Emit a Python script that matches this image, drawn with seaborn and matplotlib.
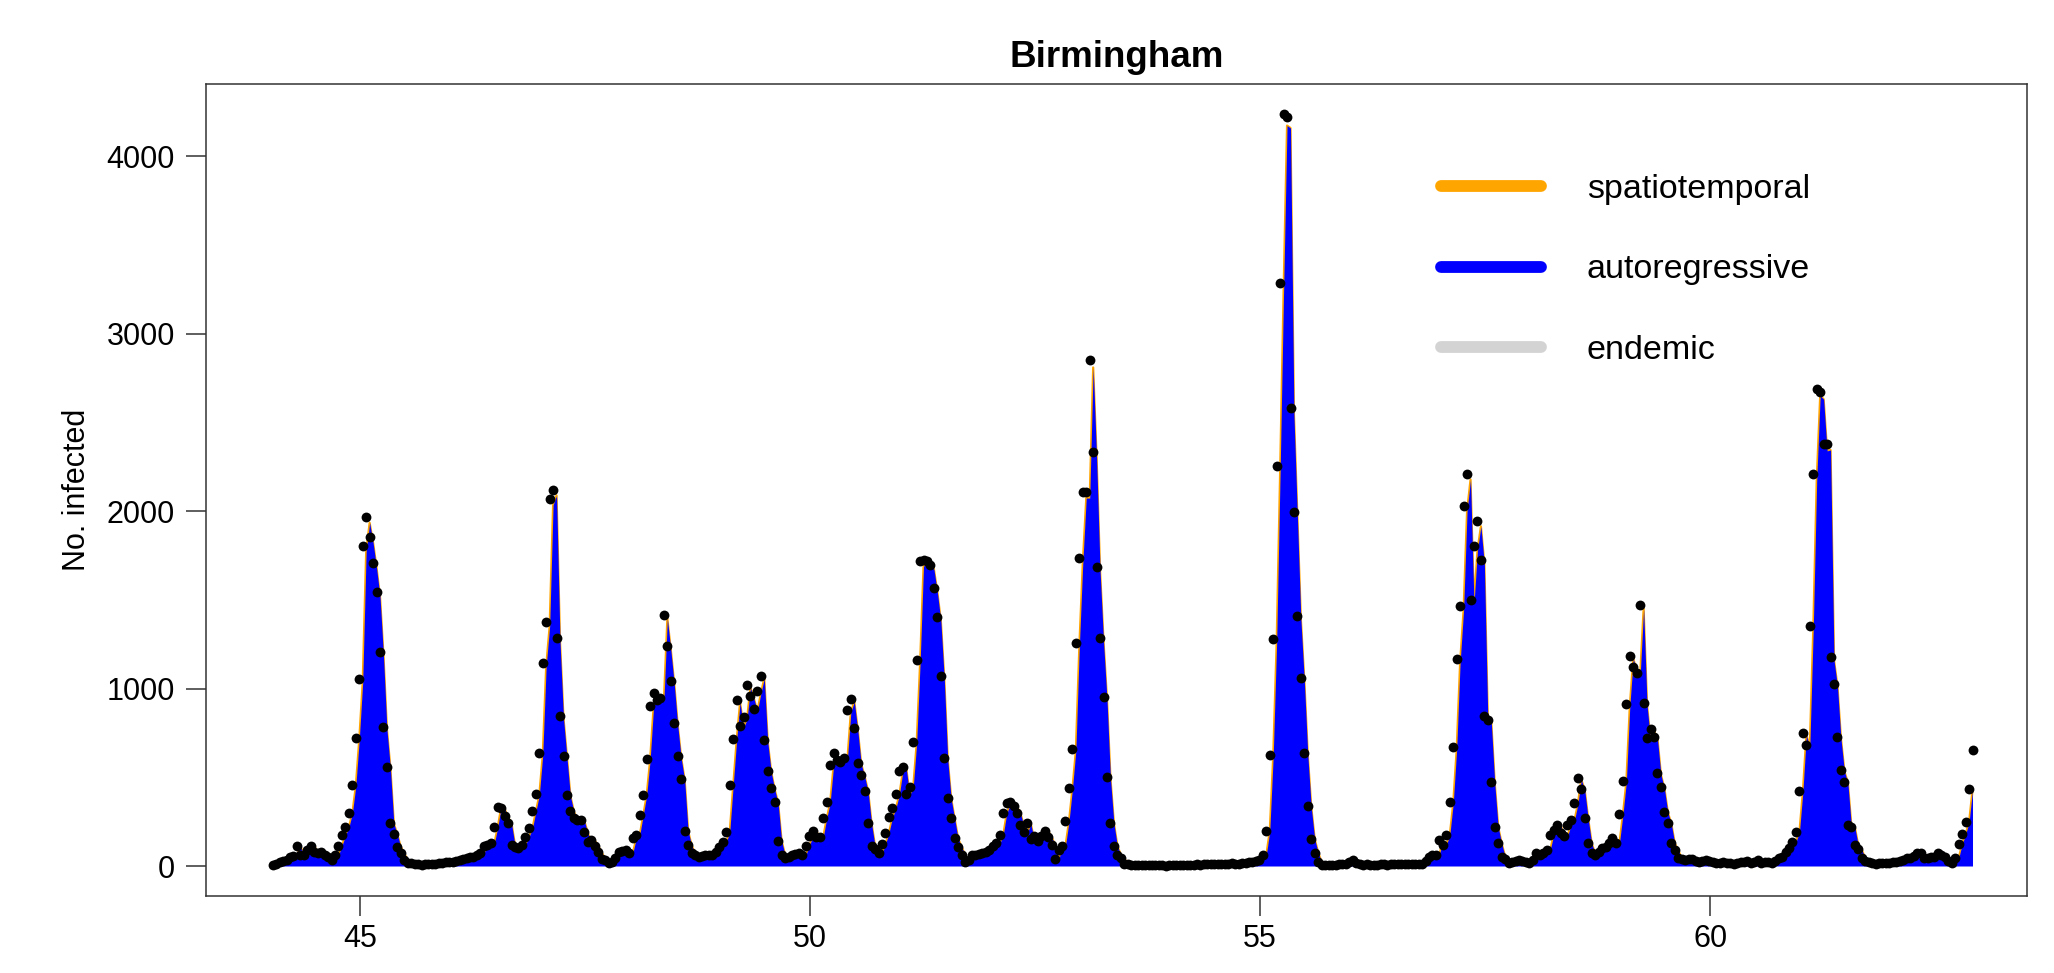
import numpy as np
import matplotlib
matplotlib.use("Agg")
import matplotlib.pyplot as plt
from matplotlib.lines import Line2D
import seaborn as sns

# ---- data (biweekly counts, 26 per year) ----
cases = [
    5, 10, 20, 30, 35, 50, 55, 115, 62, 62, 90, 115, 80, 71, 81, 62, 50, 34, 62, 115, 175, 222, 301, 457, 724, 1053,
    1801, 1965, 1852, 1707, 1542, 1205, 782, 560, 241, 180, 109, 71, 34, 19, 15, 12, 10, 8, 10, 12, 10, 14, 18, 15, 20, 24,
    20, 28, 32, 38, 45, 50, 53, 62, 71, 115, 118, 127, 222, 335, 326, 280, 241, 118, 109, 100, 118, 165, 212, 310, 404, 635,
    1145, 1374, 2068, 2121, 1282, 846, 621, 400, 310, 268, 260, 260, 190, 138, 147, 115, 80, 39, 34, 19, 24, 43, 81, 85, 90, 71,
    156, 175, 288, 400, 602, 904, 974, 936, 946, 1416, 1237, 1040, 805, 617, 491, 199, 118, 71, 62, 53, 58, 60, 62, 62, 80, 109,
    137, 190, 457, 716, 936, 791, 838, 1021, 959, 885, 987, 1073, 711, 538, 438, 359, 143, 62, 43, 53, 62, 68, 71, 62, 113, 169,
    200, 165, 162, 269, 359, 570, 635, 598, 588, 607, 880, 940, 780, 583, 513, 425, 241, 113, 94, 71, 124, 188, 275, 329, 406, 538,
    560, 406, 447, 698, 1158, 1716, 1726, 1716, 1698, 1566, 1403, 1068, 607, 382, 269, 156, 109, 62, 24, 34, 60, 62, 65, 72, 81, 90,
    110, 128, 175, 297, 353, 360, 340, 300, 230, 190, 240, 150, 170, 140, 170, 200, 165, 120, 40, 90, 115, 252, 440, 662, 1256, 1734,
    2105, 2105, 2852, 2333, 1685, 1282, 951, 499, 242, 113, 63, 43, 14, 10, 8, 5, 6, 4, 5, 3, 5, 4, 6, 3, 2, 4,
    5, 6, 8, 6, 5, 7, 8, 10, 8, 12, 10, 9, 12, 14, 12, 10, 13, 15, 12, 14, 16, 18, 20, 22, 28, 34,
    62, 197, 626, 1280, 2253, 3285, 4236, 4222, 2580, 1994, 1410, 1058, 635, 336, 152, 76, 20, 8, 6, 5, 8, 6, 10, 12, 14, 20,
    32, 18, 12, 8, 10, 8, 6, 8, 10, 12, 8, 10, 12, 10, 14, 12, 10, 14, 12, 10, 11, 30, 48, 62, 62, 147,
    118, 175, 358, 668, 1167, 1466, 2030, 2211, 1500, 1805, 1943, 1726, 843, 823, 471, 222, 128, 53, 38, 15, 24, 30, 34, 28, 24, 15,
    34, 71, 62, 71, 90, 175, 203, 231, 184, 169, 231, 259, 353, 494, 432, 269, 128, 71, 62, 81, 100, 109, 130, 156, 128, 291,
    479, 912, 1186, 1121, 1090, 1472, 918, 720, 773, 729, 523, 444, 306, 241, 128, 90, 43, 38, 34, 40, 38, 30, 25, 28, 32, 30,
    24, 18, 15, 20, 15, 18, 12, 15, 20, 22, 30, 15, 25, 34, 19, 22, 24, 19, 30, 43, 53, 81, 100, 137, 194, 425,
    748, 682, 1355, 2209, 2690, 2670, 2375, 2380, 1177, 1027, 729, 541, 476, 231, 222, 118, 94, 43, 30, 25, 19, 10, 15, 19, 15, 15,
    20, 24, 30, 34, 43, 43, 55, 71, 75, 43, 43, 49, 53, 75, 60, 49, 30, 19, 43, 124, 180, 250, 432, 654,
]

fitted = [
    8, 5, 10, 20, 30, 35, 50, 55, 112, 62, 62, 90, 112, 80, 71, 80, 62, 50, 35, 62, 113, 172, 218, 296, 450, 712,
    1036, 1772, 1934, 1822, 1680, 1518, 1186, 770, 552, 238, 178, 108, 71, 34, 19, 15, 12, 10, 8, 10, 12, 10, 14, 18, 15, 20,
    24, 20, 28, 32, 38, 45, 50, 53, 62, 71, 113, 116, 125, 218, 330, 321, 276, 238, 117, 108, 99, 117, 163, 209, 305, 398,
    625, 1127, 1352, 2035, 2088, 1262, 833, 612, 394, 306, 264, 256, 256, 187, 136, 145, 113, 79, 39, 34, 19, 24, 43, 80, 84, 89,
    71, 154, 172, 284, 394, 593, 890, 959, 922, 932, 1394, 1218, 1024, 793, 608, 484, 197, 117, 71, 62, 53, 58, 60, 62, 62, 80,
    108, 135, 188, 450, 705, 922, 779, 825, 1005, 944, 872, 972, 1057, 700, 530, 432, 354, 142, 62, 43, 53, 62, 68, 71, 62, 112,
    167, 197, 163, 160, 265, 354, 561, 625, 589, 579, 598, 867, 926, 768, 574, 505, 419, 238, 112, 93, 71, 123, 186, 271, 324, 400,
    530, 552, 400, 440, 688, 1141, 1690, 1700, 1690, 1672, 1542, 1382, 1052, 598, 377, 265, 154, 108, 62, 24, 34, 60, 62, 65, 72, 81,
    90, 109, 126, 173, 293, 348, 355, 335, 296, 227, 188, 236, 148, 168, 139, 168, 197, 163, 119, 40, 90, 114, 249, 434, 652, 1237,
    1708, 2073, 2073, 2809, 2298, 1660, 1263, 937, 492, 239, 112, 63, 43, 14, 10, 8, 5, 6, 4, 5, 3, 5, 4, 6, 3, 2,
    4, 5, 6, 8, 6, 5, 7, 8, 10, 8, 12, 10, 9, 12, 14, 12, 10, 13, 15, 12, 14, 16, 18, 20, 22, 28,
    34, 62, 195, 617, 1260, 2219, 3235, 4172, 4158, 2541, 1964, 1389, 1042, 625, 331, 150, 76, 20, 8, 6, 5, 8, 6, 10, 12, 14,
    20, 32, 18, 12, 8, 10, 8, 6, 8, 10, 12, 8, 10, 12, 10, 14, 12, 10, 14, 12, 10, 11, 30, 48, 62, 62,
    145, 117, 173, 353, 658, 1149, 1444, 2000, 2178, 1478, 1778, 1914, 1700, 830, 811, 464, 219, 127, 53, 38, 15, 24, 30, 34, 28, 24,
    15, 34, 71, 62, 71, 89, 173, 200, 228, 182, 167, 228, 255, 348, 487, 426, 265, 127, 71, 62, 80, 99, 108, 128, 154, 127,
    287, 472, 898, 1168, 1104, 1074, 1450, 904, 709, 761, 718, 515, 437, 302, 238, 127, 89, 43, 38, 34, 40, 38, 30, 25, 28, 32,
    30, 24, 18, 15, 20, 15, 18, 12, 15, 20, 22, 30, 15, 25, 34, 19, 22, 24, 19, 30, 43, 53, 80, 99, 135, 191,
    419, 737, 672, 1335, 2176, 2650, 2630, 2339, 2344, 1159, 1012, 718, 533, 469, 228, 219, 117, 93, 43, 30, 25, 19, 10, 15, 19, 15,
    15, 20, 24, 30, 34, 43, 43, 55, 71, 75, 43, 43, 49, 53, 75, 60, 49, 30, 19, 43, 123, 178, 246, 426,
]

start_year = 44.03
x_ticks = [45, 50, 55, 60]
y_ticks = [0, 1000, 2000, 3000, 4000]
legend_labels = ["spatiotemporal", "autoregressive", "endemic"]
legend_colors = ["#FFA500", "#0000FF", "#D3D3D3"]

time = start_year + np.arange(len(cases)) / 26

# ---- style ----
sns.set_theme(style="white")
plt.rcParams["font.family"] = ["Liberation Sans", "DejaVu Sans"]
plt.rcParams["text.color"] = "black"
plt.rcParams["axes.labelcolor"] = "black"

fig = plt.figure(figsize=(20.54, 9.73), dpi=100)
ax = fig.add_axes([206 / 2054, 77 / 973, 1821 / 2054, 812 / 973])

# fitted components: thin orange top, blue body
ax.plot(time, fitted, color=legend_colors[0], lw=1.6, zorder=1)
ax.fill_between(time, 0, fitted, color=legend_colors[1], lw=0, zorder=2)

# observed counts
sns.scatterplot(x=time, y=cases, color="black", s=50, linewidth=0, ax=ax, zorder=5)

ax.set_xlim(43.289, 63.52)
ax.set_ylim(-169, 4406)
ax.set_xticks(x_ticks)
ax.set_yticks(y_ticks)
ax.set_xticklabels([str(v) for v in x_ticks])
ax.set_yticklabels([str(v) for v in y_ticks])
ax.tick_params(axis="both", direction="out", length=14.5, width=1.1, color="#333333",
               labelsize=22, labelcolor="black", left=True, bottom=True)
ax.tick_params(axis="x", pad=6)
ax.tick_params(axis="y", pad=8)
for s in ax.spines.values():
    s.set_visible(True)
    s.set_color("#333333")
    s.set_linewidth(1.1)

ax.set_ylabel("No. infected", fontsize=22, labelpad=10.5, color="black")
ax.set_xlabel("")
ax.set_title("Birmingham", fontsize=26.5, fontweight="bold", pad=12, color="black")

handles = [Line2D([0], [0], color=c, lw=8.5, solid_capstyle="round") for c in legend_colors]
ax.legend(handles, legend_labels, loc="upper left", bbox_to_anchor=(0.678, 0.889),
          frameon=False, fontsize=24.5, handlelength=2.95, handletextpad=1.35,
          labelspacing=1.45, borderpad=0, borderaxespad=0)

fig.savefig("out.png", dpi=100)
